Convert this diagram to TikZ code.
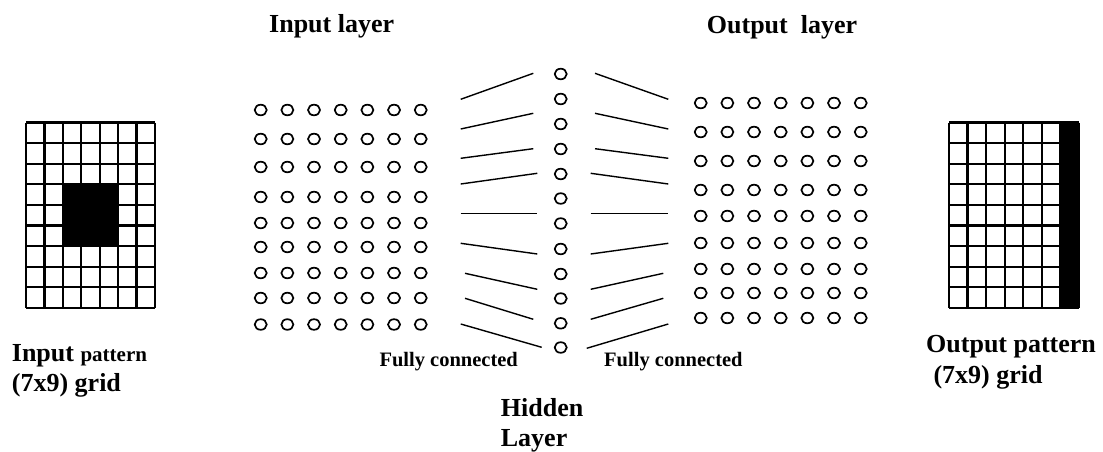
\documentclass[tikz,border=0pt]{standalone}
\usepackage{fontspec}
\setmainfont{Liberation Serif}
\usetikzlibrary{shapes.geometric}
\begin{document}
\begin{tikzpicture}[x=1pt,y=-1pt,
  neuron/.style={draw, ellipse, minimum width=12pt, minimum height=10.6pt, inner sep=0pt, line width=1.7pt},
  link/.style={line width=1.4pt},
  gridline/.style={line width=2.2pt},
  big/.style={inner sep=0pt, anchor=base west, font=\bfseries\fontsize{26}{30}\selectfont},
  small/.style={inner sep=0pt, anchor=base west, font=\bfseries\fontsize{20.5}{24}\selectfont}]
\useasboundingbox (0,0) rectangle (1103,452);
% ---------- left input grid ----------
\fill (62.9,184.3) rectangle (118.1,246.1);
\foreach \c in {0,...,7} \draw[gridline] ({26+\c*18.43},122.5) -- ({26+\c*18.43},308);
\foreach \r in {0,...,9} \draw[gridline] (26,{122.5+\r*20.61}) -- (155,{122.5+\r*20.61});
% ---------- right output grid ----------
\fill (1060.4,122.5) rectangle (1079,308);
\foreach \c in {0,...,7} \draw[gridline] ({949+\c*18.57},122.5) -- ({949+\c*18.57},308);
\foreach \r in {0,...,9} \draw[gridline] (949,{122.5+\r*20.61}) -- (1079,{122.5+\r*20.61});
% ---------- input layer ----------
\foreach \y [count=\r] in {110,139,167,197,223,247,273,298,324.5}
  \foreach \c in {1,...,7}
    \node[neuron] (in-\r-\c) at ({260.7+(\c-1)*26.67},\y) {};
% ---------- output layer ----------
\foreach \y [count=\r] in {103,132,161,190,216,243,269,293,318}
  \foreach \c in {1,...,7}
    \node[neuron] (out-\r-\c) at ({700.7+(\c-1)*26.67},\y) {};
% ---------- hidden layer ----------
\foreach \y [count=\r] in {74,99,124,149,174,198.5,223.5,249,274,298.5,323.3,347.5}
  \node[neuron] (hid-\r) at (560.7,\y) {};
% ---------- connection strokes ----------
\foreach \i/\ax/\ay/\bx/\by in {
  1/460.7/99.3/533.3/73.3, 2/460.7/129/533.3/113.3, 3/460.7/158.3/533.3/148.7,
  4/460.7/184/537.3/173.3, 5/460.7/213.3/537.3/213.3, 6/460.7/243.3/537.3/254,
  7/465/273.3/537.3/289.3, 8/465/298.3/533.3/319.3, 9/460.7/324/541.7/347.3}
{
  \coordinate (la\i) at (\ax,\ay);
  \coordinate (lb\i) at (\bx,\by);
  \draw[link] (la\i) -- (lb\i);
}
\foreach \i/\ax/\ay/\bx/\by in {
  1/595/73.3/668.3/99.3, 2/595/113.3/668.3/129, 3/595/148.7/668.3/158.3,
  4/590.7/173.3/668.3/184, 5/590.7/213.3/668.3/213.3, 6/590.7/254/668.3/243.3,
  7/590.7/289.3/663.3/273.3, 8/590.7/319.3/663.3/298.3, 9/586.7/348.3/668.3/324}
{
  \coordinate (ra\i) at (\ax,\ay);
  \coordinate (rb\i) at (\bx,\by);
  \draw[link] (ra\i) -- (rb\i);
}
% ---------- labels ----------
\node[big] (inlayer) at (269,32.3) {Input layer};
\node[big] (outlayer) at (706.7,33.3) {Output\ \ layer};
\node[big] (inpat) at (11.7,361.7) {Input {\fontsize{21}{25}\selectfont pattern}};
\node[big] (ingrid) at (11.7,391.7) {(7x9) grid};
\node[big] (outpat) at (926,352.7) {Output pattern};
\node[big] (outgrid) at (933.3,383.3) {(7x9) grid};
\node[big] (hidden) at (500.7,416) {Hidden};
\node[big] (hlayer) at (500.7,446.7) {Layer};
\node[small] (fc1) at (379.3,366.7) {Fully connected};
\node[small] (fc2) at (604,366.7) {Fully connected};
\end{tikzpicture}
\end{document}
